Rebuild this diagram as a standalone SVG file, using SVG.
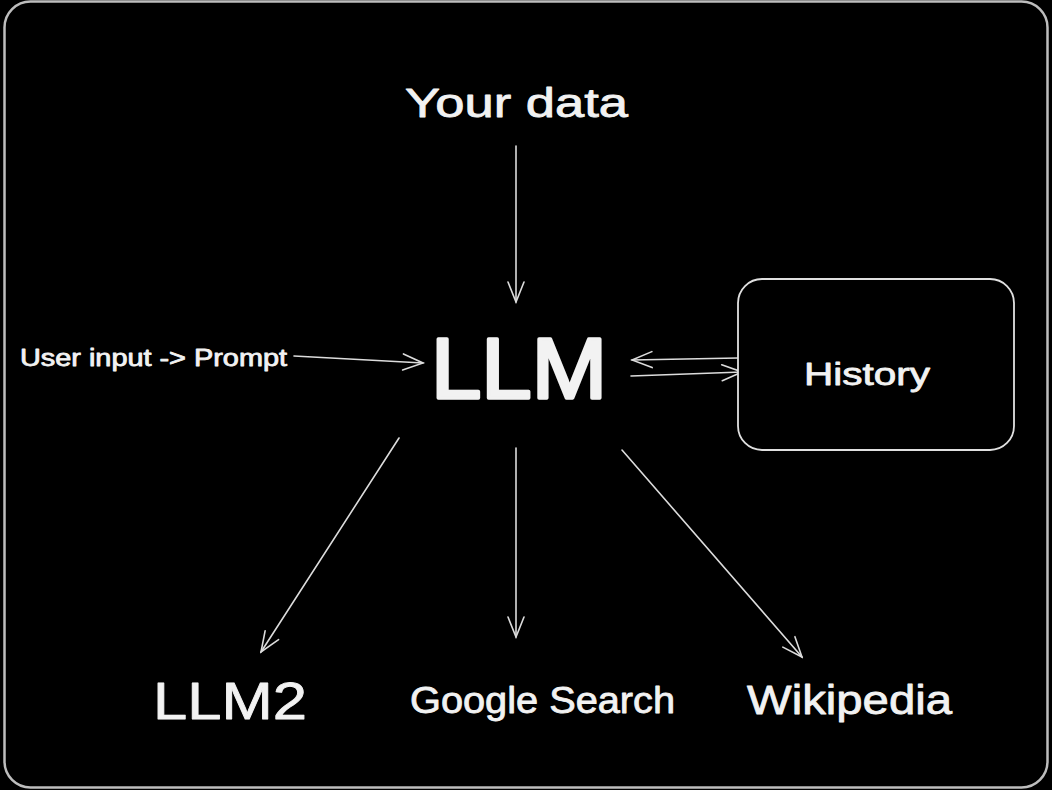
<svg xmlns="http://www.w3.org/2000/svg" width="1052" height="790" viewBox="0 0 1052 790">
<defs>
<style>
.lbl{font-family:"Liberation Sans","Open Sans",sans-serif;fill:#f2f2f2;stroke:#f2f2f2;stroke-width:0.8;stroke-linejoin:round;}
.big{stroke-width:3.5;}
.edge{stroke:#dcdcdc;stroke-width:1.6;fill:none;stroke-linecap:round;}
.box{stroke:#e0e0e0;stroke-width:1.8;fill:#000;}
</style>
<marker id="ah" viewBox="0 0 24 20" refX="22" refY="10" markerWidth="24" markerHeight="20" markerUnits="userSpaceOnUse" orient="auto">
<path d="M2,2 L22,10 L2,18" fill="none" stroke="#dcdcdc" stroke-width="1.6" stroke-linecap="round"/>
</marker>
</defs>
<rect x="0" y="0" width="1052" height="790" fill="#000"/>
<rect x="4.5" y="1.5" width="1043" height="786" rx="26" fill="#000" stroke="#bdbdbd" stroke-width="2.5"/>
<g id="connectors">
<line class="edge" x1="516" y1="146" x2="516" y2="302" marker-end="url(#ah)"/>
<line class="edge" x1="294" y1="356" x2="423" y2="363" marker-end="url(#ah)"/>
<line class="edge" x1="738" y1="358" x2="632" y2="360" marker-end="url(#ah)"/>
<line class="edge" x1="631" y1="376" x2="742" y2="372" marker-end="url(#ah)"/>
<line class="edge" x1="399" y1="438" x2="261" y2="652" marker-end="url(#ah)"/>
<line class="edge" x1="516" y1="448" x2="516" y2="637" marker-end="url(#ah)"/>
<line class="edge" x1="622" y1="450" x2="802" y2="657" marker-end="url(#ah)"/>
</g>
<g id="node-yourdata"><text class="lbl" x="405" y="117" font-size="40" textLength="223" lengthAdjust="spacingAndGlyphs">Your data</text></g>
<g id="node-llm"><text class="lbl big" x="431" y="398" font-size="86" textLength="176" lengthAdjust="spacingAndGlyphs">LLM</text></g>
<g id="node-userinput"><text class="lbl" x="20" y="366" font-size="23" textLength="267" lengthAdjust="spacingAndGlyphs">User input -&gt; Prompt</text></g>
<g id="node-history">
<rect class="box" x="738" y="279" width="276" height="171" rx="24"/>
<text class="lbl" x="804" y="385" font-size="32" textLength="126" lengthAdjust="spacingAndGlyphs">History</text>
</g>
<g id="node-llm2"><text class="lbl" x="153" y="719" font-size="52" textLength="154" lengthAdjust="spacingAndGlyphs">LLM2</text></g>
<g id="node-google"><text class="lbl" x="410" y="713" font-size="36" textLength="265" lengthAdjust="spacingAndGlyphs">Google Search</text></g>
<g id="node-wikipedia"><text class="lbl" x="747" y="714" font-size="40" textLength="205" lengthAdjust="spacingAndGlyphs">Wikipedia</text></g>
</svg>
